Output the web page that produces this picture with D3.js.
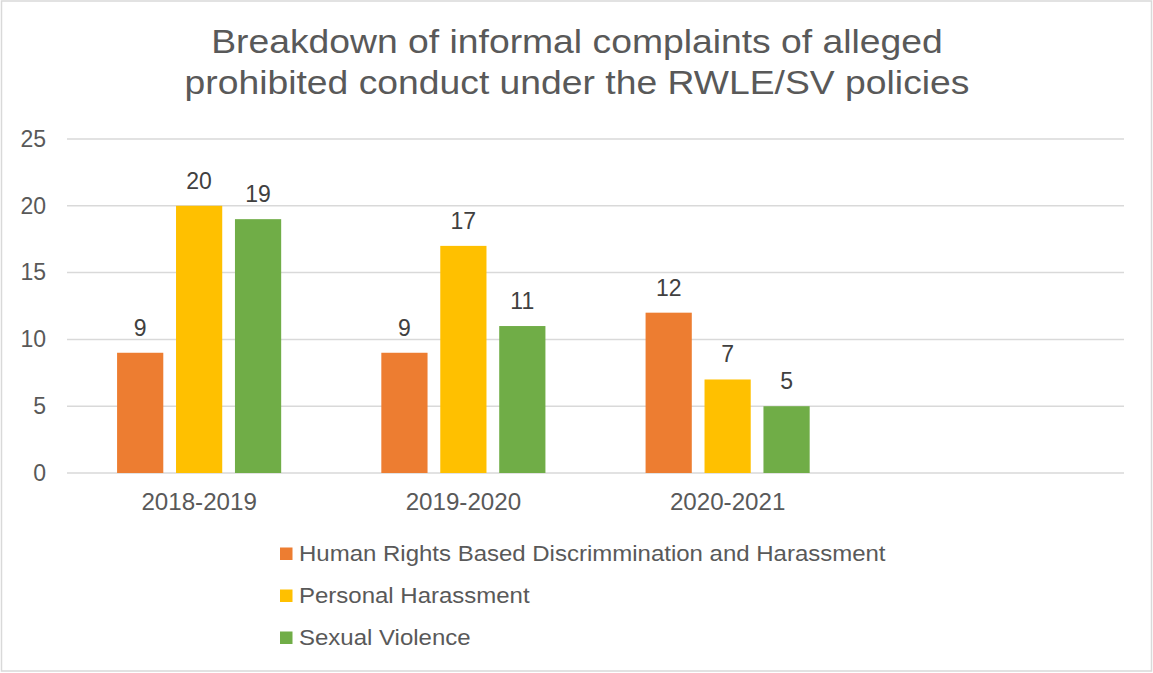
<!DOCTYPE html>
<html>
<head>
<meta charset="utf-8">
<script src="https://cdn.jsdelivr.net/npm/d3@7"></script>
<style>
  body { margin: 0; background: #fff; }
  svg { display: block; font-family: "Liberation Sans", Arial, sans-serif; }
</style>
</head>
<body>
<div id="chart"></div>
<script>
const titleLines = ["Breakdown of informal complaints of alleged", "prohibited conduct under the RWLE/SV policies"];
const categories = ["2018-2019", "2019-2020", "2020-2021", ""];
const seriesNames = ["Human Rights Based Discrimmination and Harassment", "Personal Harassment", "Sexual Violence"];
const humanRights = [9, 9, 12];
const personal = [20, 17, 7];
const sexual = [19, 11, 5];
const yTicks = [0, 5, 10, 15, 20, 25];
const colors = ["#ED7D31", "#FFC000", "#70AD47"];

const width = 1153;
const height = 673;
const plot = { left: 67, right: 1124, top: 139, bottom: 473 };

// the source text renders a bit wider than Liberation Sans, stretch it slightly
function widen(sel, k) {
  sel.each(function () {
    const len = this.getComputedTextLength();
    if (len > 0) {
      d3.select(this).attr("textLength", len * k).attr("lengthAdjust", "spacingAndGlyphs");
    }
  });
}

const svg = d3.select("#chart")
  .append("svg")
  .attr("width", width)
  .attr("height", height);

svg.append("rect")
  .attr("x", 1.5).attr("y", 1).attr("width", width - 3).attr("height", height - 3)
  .attr("fill", "#fff").attr("stroke", "#d9d9d9").attr("stroke-width", 1.5);

// title
svg.append("g")
  .selectAll("text")
  .data(titleLines)
  .join("text")
  .attr("x", 577)
  .attr("y", (d, i) => 53 + i * 41)
  .attr("text-anchor", "middle")
  .attr("font-size", 33)
  .attr("fill", "#595959")
  .text((d) => d)
  .call(widen, 1.13);

const x0 = d3.scaleBand()
  .domain(categories)
  .range([plot.left, plot.right])
  .paddingInner(0.379)
  .paddingOuter(0.1895);

const x1 = d3.scaleBand()
  .domain(seriesNames)
  .range([0, x0.bandwidth()])
  .paddingInner(0.216);

const y = d3.scaleLinear().domain([0, 25]).range([plot.bottom, plot.top]);

// gridlines
svg.append("g")
  .selectAll("line")
  .data(yTicks)
  .join("line")
  .attr("x1", plot.left)
  .attr("x2", plot.right)
  .attr("y1", (d) => y(d))
  .attr("y2", (d) => y(d))
  .attr("stroke", "#d9d9d9")
  .attr("stroke-width", 1.5);

// y axis labels
const yAxis = svg.append("g")
  .attr("transform", `translate(${plot.left - 21},0)`)
  .call(d3.axisLeft(y).tickValues(yTicks).tickSize(0).tickPadding(0));
yAxis.select(".domain").remove();
yAxis.selectAll("text")
  .attr("font-family", "inherit")
  .attr("font-size", 23)
  .attr("fill", "#595959");

// x axis labels
const xAxis = svg.append("g")
  .attr("transform", `translate(0,${plot.bottom})`)
  .call(d3.axisBottom(x0).tickSize(0).tickPadding(0));
xAxis.select(".domain").remove();
xAxis.selectAll("text")
  .attr("font-family", "inherit")
  .attr("font-size", 23)
  .attr("fill", "#595959")
  .attr("dy", 0)
  .attr("y", 37)
  .call(widen, 1.05);

const seriesData = [humanRights, personal, sexual];
const rows = [];
seriesData.forEach((vals, s) => {
  vals.forEach((v, c) => rows.push({ cat: categories[c], series: seriesNames[s], value: v, color: colors[s] }));
});

const bars = svg.append("g");
bars.selectAll("rect")
  .data(rows)
  .join("rect")
  .attr("x", (d) => x0(d.cat) + x1(d.series))
  .attr("y", (d) => y(d.value))
  .attr("width", x1.bandwidth())
  .attr("height", (d) => y(0) - y(d.value))
  .attr("fill", (d) => d.color);

bars.selectAll("text")
  .data(rows)
  .join("text")
  .attr("x", (d) => x0(d.cat) + x1(d.series) + x1.bandwidth() / 2)
  .attr("y", (d) => y(d.value) - 17)
  .attr("text-anchor", "middle")
  .attr("font-size", 23)
  .attr("fill", "#404040")
  .text((d) => d.value);

// legend
const legend = svg.append("g")
  .selectAll("g")
  .data(seriesNames)
  .join("g")
  .attr("transform", (d, i) => `translate(280,${561 + i * 42})`);

legend.append("rect")
  .attr("y", -13.5)
  .attr("width", 12.5)
  .attr("height", 12.5)
  .attr("fill", (d, i) => colors[i]);

legend.append("text")
  .attr("x", 19)
  .attr("y", 0)
  .attr("font-size", 22.5)
  .attr("fill", "#595959")
  .text((d) => d)
  .call(widen, 1.066);
</script>
</body>
</html>
